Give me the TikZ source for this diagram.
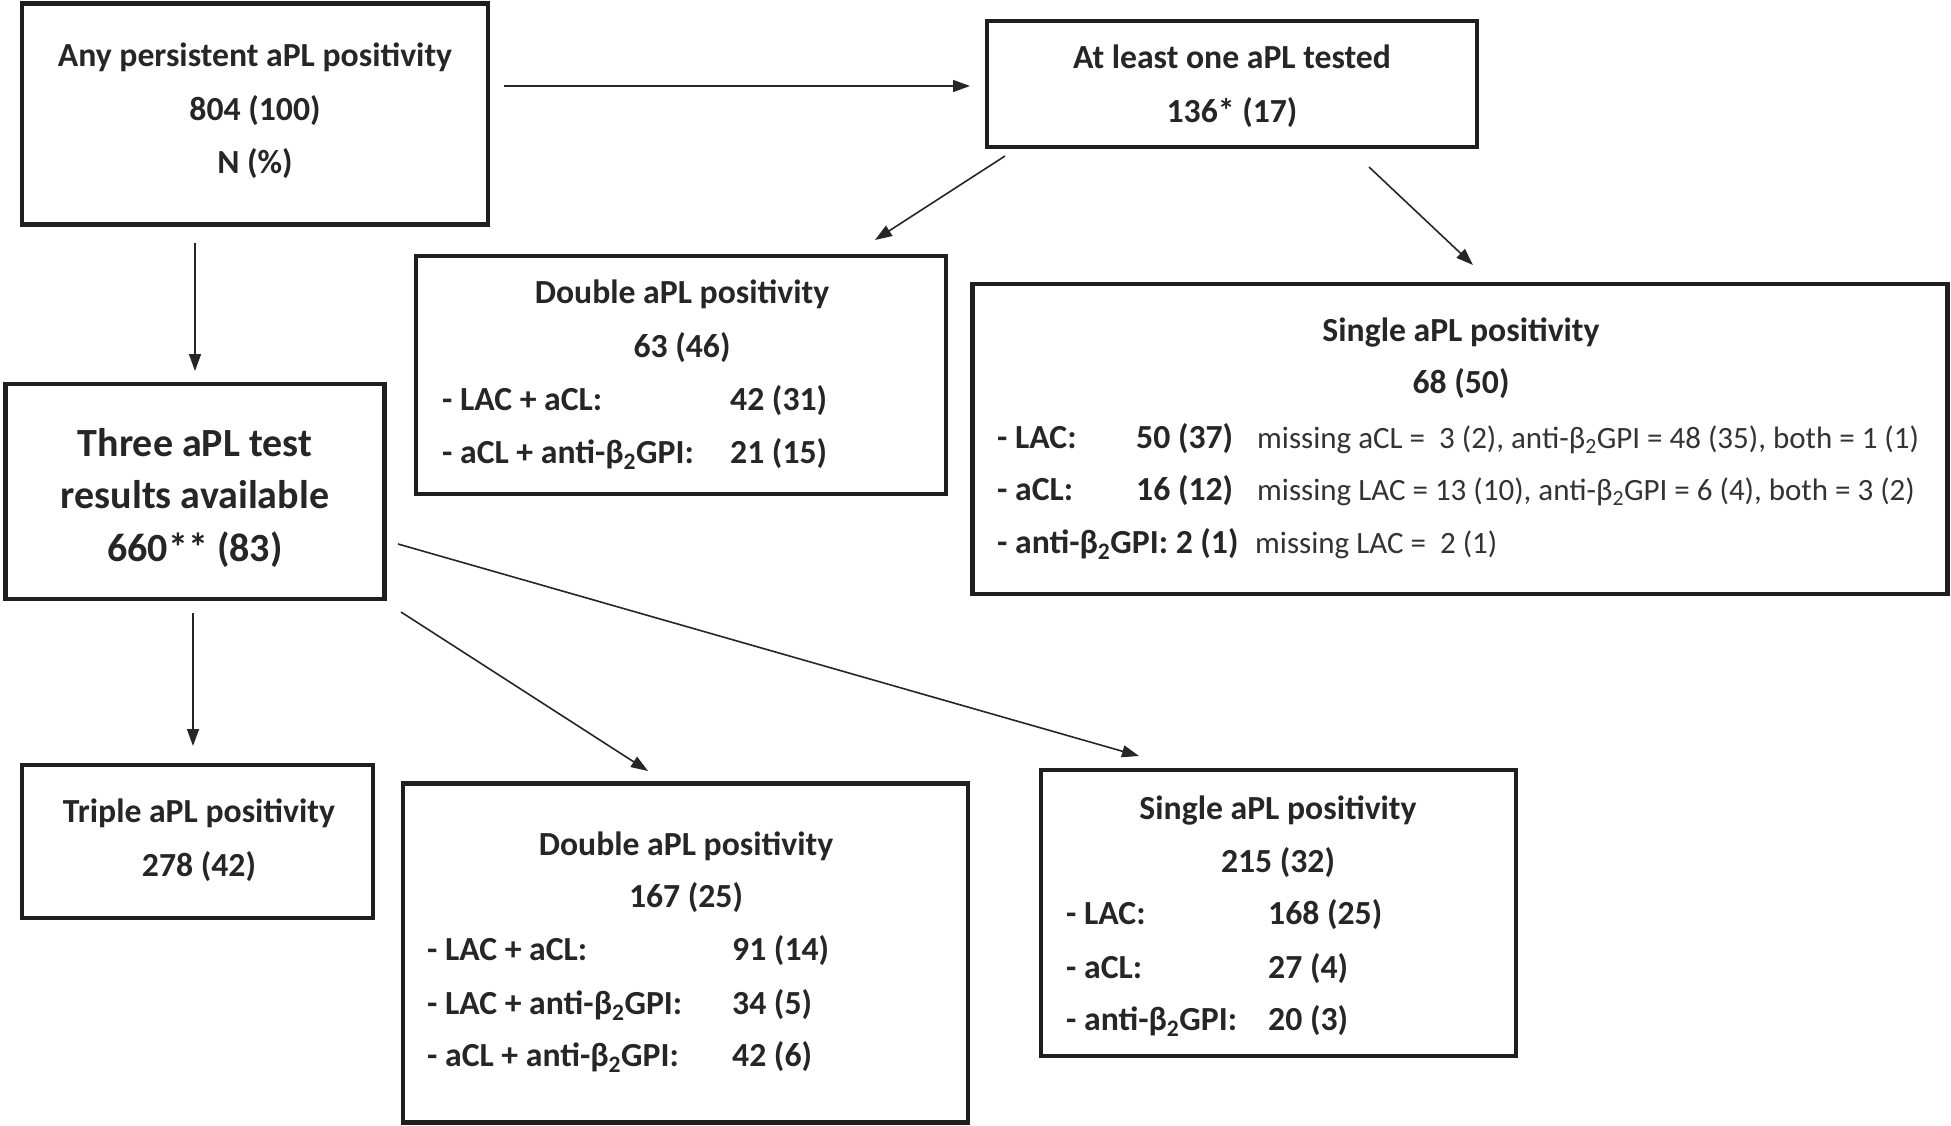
\documentclass[tikz,border=0pt]{standalone}
\usepackage{fontspec}
\setmainfont{Carlito}
\usetikzlibrary{arrows.meta}
\newcommand{\bgpi}{β\textsubscript{2}GPI}
\begin{document}
\begin{tikzpicture}[x=1pt,y=-1pt,
  box/.style={draw=black!88, line width=4.5pt, inner sep=0pt},
  tb/.style={font=\fontsize{33.7}{40}\selectfont\bfseries, text=black!85, inner sep=0pt, anchor=base},
  tl/.style={tb, anchor=base west},
  tm/.style={font=\fontsize{31}{38}\selectfont, text=black!80, inner sep=0pt, anchor=base west},
  tbig/.style={font=\fontsize{40}{48}\selectfont\bfseries, text=black!85, inner sep=0pt, anchor=base},
  arr/.style={draw=black!85, line width=1.6pt, -{Triangle[length=17pt,width=12pt]}}]
\useasboundingbox (0,0) rectangle (1951,1126);
\fill[white] (0,0) rectangle (1951,1126);

% boxes
\node[box, minimum width=466pt, minimum height=221pt] (A) at (255,114) {};
\node[box, minimum width=490pt, minimum height=126pt] (B) at (1232,84) {};
\node[box, minimum width=530pt, minimum height=238pt] (D1) at (681,375) {};
\node[box, minimum width=975pt, minimum height=310pt] (S1) at (1460,439) {};
\node[box, minimum width=379pt, minimum height=215pt] (T) at (195,491.5) {};
\node[box, minimum width=351pt, minimum height=153pt] (TR) at (197.5,841.5) {};
\node[box, minimum width=565pt, minimum height=339pt] (D2) at (685.5,953) {};
\node[box, minimum width=475pt, minimum height=286pt] (S2) at (1278.5,913) {};

% box A
\node[tb] (A1) at (255,67) {Any persistent aPL positivity};
\node[tb] (A2) at (255,121) {804 (100)};
\node[tb] (A3) at (255,174) {N (\%)};
% box B
\node[tb] (B1) at (1232,69) {At least one aPL tested};
\node[tb] (B2) at (1232,123) {136* (17)};
% box D1
\node[tb] (D11) at (682,303) {Double aPL positivity};
\node[tb] (D12) at (682,357) {63 (46)};
\node[tl] (D13) at (442,410) {- LAC + aCL:};
\node[tl] (D14) at (730,410) {42 (31)};
\node[tl] (D15) at (442,463) {- aCL + anti-\bgpi:};
\node[tl] (D16) at (730,463) {21 (15)};
% box S1
\node[tb] (S11) at (1461,341) {Single aPL positivity};
\node[tb] (S12) at (1461,393) {68 (50)};
\node[tl] (S13) at (997,448) {- LAC:};
\node[tl] (S14) at (1136,448) {50 (37)};
\node[tm] (S15) at (1257,448) {missing aCL =~ 3 (2), anti-\bgpi{} = 48 (35), both = 1 (1)};
\node[tl] (S16) at (997,500) {- aCL:};
\node[tl] (S17) at (1136,500) {16 (12)};
\node[tm] (S18) at (1257,500) {missing LAC = 13 (10), anti-\bgpi{} = 6 (4), both = 3 (2)};
\node[tl] (S19) at (997,553) {- anti-\bgpi: 2 (1)};
\node[tm] (S20) at (1255,553) {missing LAC =~ 2 (1)};
% box T
\node[tbig] (T1) at (195,456) {Three aPL test};
\node[tbig] (T2) at (195,508) {results available};
\node[tbig] (T3) at (195,561) {660** (83)};
% box Triple
\node[tb] (TR1) at (199,822) {Triple aPL positivity};
\node[tb] (TR2) at (199,876) {278 (42)};
% box D2
\node[tb] (D21) at (686,855) {Double aPL positivity};
\node[tb] (D22) at (686,907) {167 (25)};
\node[tl] (D23) at (427,960) {- LAC + aCL:};
\node[tl] (D24) at (732,960) {91 (14)};
\node[tl] (D25) at (427,1014) {- LAC + anti-\bgpi:};
\node[tl] (D26) at (732,1014) {34 (5)};
\node[tl] (D27) at (427,1066) {- aCL + anti-\bgpi:};
\node[tl] (D28) at (732,1066) {42 (6)};
% box S2
\node[tb] (S21) at (1278,819) {Single aPL positivity};
\node[tb] (S22) at (1278,872) {215 (32)};
\node[tl] (S23) at (1066,924) {- LAC:};
\node[tl] (S24) at (1268,924) {168 (25)};
\node[tl] (S25) at (1066,978) {- aCL:};
\node[tl] (S26) at (1268,978) {27 (4)};
\node[tl] (S27) at (1066,1030) {- anti-\bgpi:};
\node[tl] (S28) at (1268,1030) {20 (3)};

% arrow end points
\coordinate (ab1) at (504,86);   \coordinate (ab2) at (970,86);
\coordinate (bd1) at (1005,156); \coordinate (bd2) at (875,240);
\coordinate (bs1) at (1369,167); \coordinate (bs2) at (1473,265);
\coordinate (at1) at (195,243);  \coordinate (at2) at (195,371);
\coordinate (tt1) at (193,613);  \coordinate (tt2) at (193,746);
\coordinate (td1) at (401,612);  \coordinate (td2) at (648,771);
\coordinate (ts1) at (398,544);  \coordinate (ts2) at (1139,756);

\draw[arr] (ab1) -- (ab2);
\draw[arr] (bd1) -- (bd2);
\draw[arr] (bs1) -- (bs2);
\draw[arr] (at1) -- (at2);
\draw[arr] (tt1) -- (tt2);
\draw[arr] (td1) -- (td2);
\draw[arr] (ts1) -- (ts2);
\end{tikzpicture}
\end{document}
